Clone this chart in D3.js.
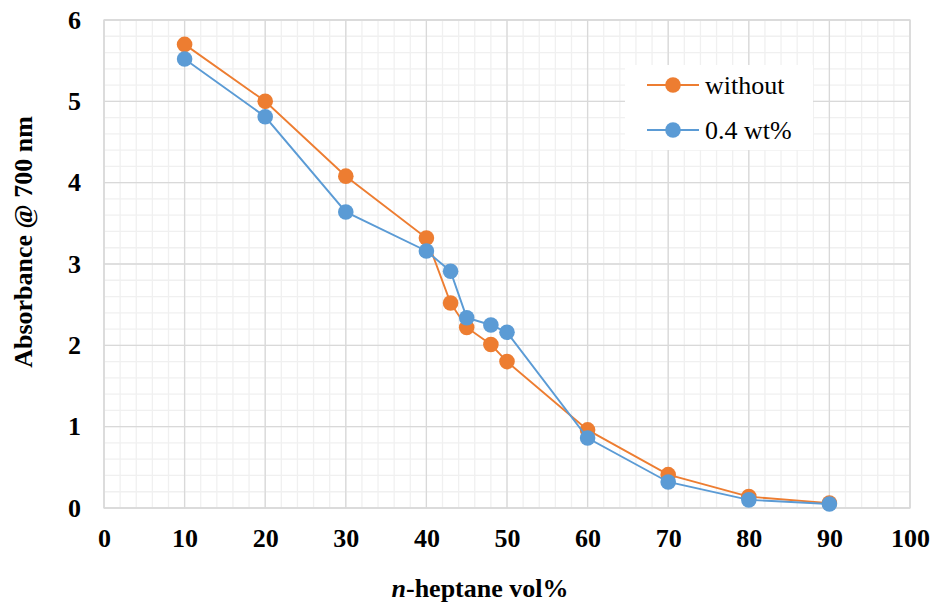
<!DOCTYPE html>
<html><head><meta charset="utf-8">
<script src="https://cdn.jsdelivr.net/npm/d3@7"></script>
<style>body{margin:0;background:#fff}svg{display:block}</style>
</head><body>
<svg id="c" width="936" height="604"></svg>
<script>
const xValues = [10, 20, 30, 40, 43, 45, 48, 50, 60, 70, 80, 90];
const withoutValues = [5.70, 5.00, 4.08, 3.32, 2.52, 2.22, 2.01, 1.80, 0.96, 0.41, 0.14, 0.06];
const wt04Values = [5.52, 4.81, 3.64, 3.16, 2.91, 2.34, 2.25, 2.16, 0.86, 0.32, 0.10, 0.05];
const seriesNames = ["without", "0.4 wt%"];
const xTicks = [0, 10, 20, 30, 40, 50, 60, 70, 80, 90, 100];
const yTicks = [0, 1, 2, 3, 4, 5, 6];

const colors = ["#ED7D31", "#5B9BD5"];
const svg = d3.select("#c");
const L = 104, R = 910, T = 20, B = 508;
const x = d3.scaleLinear().domain([0, 100]).range([L, R]);
const y = d3.scaleLinear().domain([0, 6]).range([B, T]);
const serif = "'Liberation Serif','Times New Roman',serif";
const FS = 26;
const MR = 7.8;

// minor grid
const g = svg.append("g");
g.selectAll(".mx").data(d3.range(0, 100.01, 2)).join("line")
  .attr("x1", d => x(d)).attr("x2", d => x(d)).attr("y1", T).attr("y2", B)
  .attr("stroke", "#f0f0f0").attr("stroke-width", 1.3);
g.selectAll(".my").data(d3.range(0, 6.001, 0.2)).join("line")
  .attr("y1", d => y(d)).attr("y2", d => y(d)).attr("x1", L).attr("x2", R)
  .attr("stroke", "#f0f0f0").attr("stroke-width", 1.3);
// major grid
g.selectAll(".Mx").data(xTicks).join("line")
  .attr("x1", d => x(d)).attr("x2", d => x(d)).attr("y1", T).attr("y2", B)
  .attr("stroke", "#d9d9d9").attr("stroke-width", 1.3);
g.selectAll(".My").data(yTicks).join("line")
  .attr("y1", d => y(d)).attr("y2", d => y(d)).attr("x1", L).attr("x2", R)
  .attr("stroke", "#d9d9d9").attr("stroke-width", 1.3);
svg.append("rect").attr("x", L).attr("y", T).attr("width", R - L).attr("height", B - T)
  .attr("fill", "none").attr("stroke", "#d9d9d9").attr("stroke-width", 1.3);

// axes labels via d3 axes
const xa = svg.append("g").attr("transform", `translate(0,${B})`)
  .call(d3.axisBottom(x).tickValues(xTicks).tickFormat(d3.format("d")).tickSize(0).tickPadding(21));
const ya = svg.append("g").attr("transform", `translate(${L},0)`)
  .call(d3.axisLeft(y).tickValues(yTicks).tickFormat(d3.format("d")).tickSize(0).tickPadding(23));
[xa, ya].forEach(a => {
  a.select(".domain").remove();
  a.selectAll("text").attr("font-family", serif).attr("font-weight", "bold")
    .attr("font-size", FS).attr("fill", "#000");
});

// series
const seriesData = [withoutValues, wt04Values];
const line = d3.line().x((d, i) => x(xValues[i])).y(d => y(d));
seriesData.forEach((vals, s) => {
  svg.append("path").datum(vals).attr("d", line).attr("fill", "none")
    .attr("stroke", colors[s]).attr("stroke-width", 1.9);
  svg.append("g").selectAll("circle").data(vals).join("circle")
    .attr("cx", (d, i) => x(xValues[i])).attr("cy", d => y(d)).attr("r", MR)
    .attr("fill", colors[s]);
});

// legend
const lg = svg.append("g");
lg.append("rect").attr("x", 625).attr("y", 65).attr("width", 188).attr("height", 85).attr("fill", "#fff");
seriesNames.forEach((n, i) => {
  const cy = 85 + i * 45;
  lg.append("line").attr("x1", 647).attr("x2", 699).attr("y1", cy).attr("y2", cy)
    .attr("stroke", colors[i]).attr("stroke-width", 1.9);
  lg.append("circle").attr("cx", 673).attr("cy", cy).attr("r", MR).attr("fill", colors[i]);
  lg.append("text").attr("x", 705).attr("y", cy + 9).text(n)
    .attr("font-family", serif).attr("font-size", FS).attr("fill", "#000");
});

// axis titles
const xt = svg.append("text").attr("x", 480).attr("y", 597).attr("text-anchor", "middle")
  .attr("font-family", serif).attr("font-weight", "bold").attr("font-size", FS).attr("fill", "#000");
xt.append("tspan").attr("font-style", "italic").text("n");
xt.append("tspan").text("-heptane vol%");
svg.append("text").attr("transform", `translate(32,242) rotate(-90)`)
  .attr("text-anchor", "middle").attr("font-family", serif).attr("font-weight", "bold")
  .attr("font-size", FS).attr("fill", "#000").text("Absorbance @ 700 nm");
</script>
</body></html>
